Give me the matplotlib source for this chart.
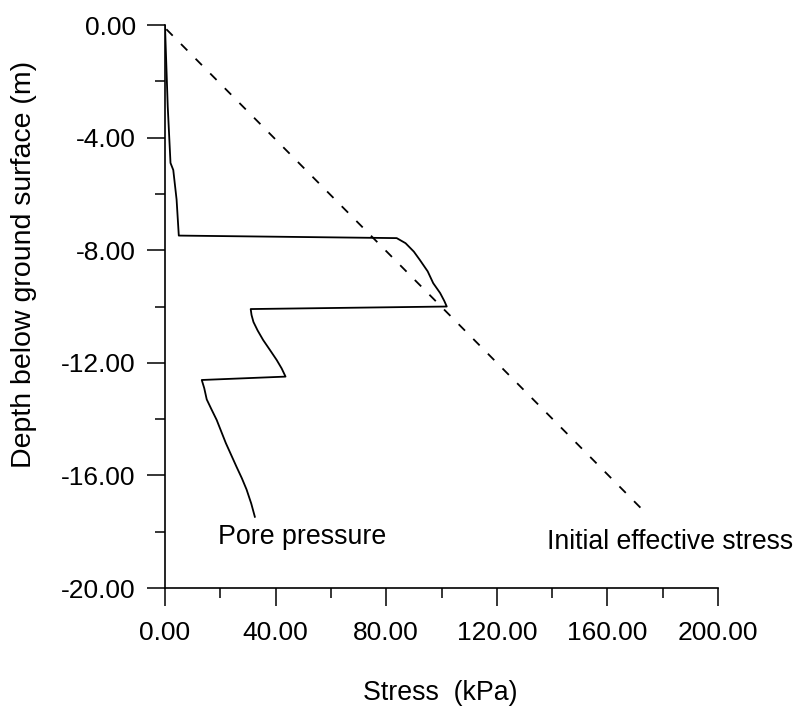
import numpy as np
import matplotlib.pyplot as plt
from matplotlib.ticker import MultipleLocator, FormatStrFormatter

plt.rcParams['font.family'] = ['Liberation Sans', 'DejaVu Sans']

# pore pressure profile (kPa, m)
pore_stress = [0.0, 1.0, 2.0, 3.0, 4.2, 5.0,
               83.8, 87.0, 90.0, 92.2, 95.0, 97.0, 99.5, 101.0, 101.9,
               31.0, 31.3, 32.0, 33.5, 35.5, 38.0, 40.4, 42.2, 43.6,
               13.3, 14.2, 15.1, 16.8, 18.7, 22.0, 25.9, 27.8, 29.5, 31.2, 32.5]
pore_depth = [0.0, -2.9, -4.9, -5.15, -6.2, -7.48,
              -7.57, -7.75, -8.05, -8.35, -8.75, -9.17, -9.52, -9.8, -10.0,
              -10.09, -10.3, -10.55, -10.85, -11.19, -11.55, -11.9, -12.2, -12.49,
              -12.61, -12.9, -13.3, -13.65, -14.03, -14.85, -15.7, -16.1, -16.5, -17.0, -17.47]

# initial effective stress line
eff_stress = [0.5, 174.0]
eff_depth = [-0.15, -17.35]


def main():
    fig = plt.figure(figsize=(8.02, 7.07), dpi=100)
    ax = fig.add_axes([0.2057, 0.1683, 0.6896, 0.7963])

    ax.plot(pore_stress, pore_depth, color='black', linewidth=1.3)
    ax.plot(eff_stress, eff_depth, color='black', linewidth=1.3,
            linestyle=(0, (5, 6.5)))

    ax.text(19.2, -18.2, 'Pore pressure', fontsize=19.3, va='center', ha='left')
    ax.text(138.2, -18.37, 'Initial effective stress', fontsize=19.2, va='center', ha='left')

    ax.set_xlim(0, 200)
    ax.set_ylim(-20, 0)
    ax.spines['top'].set_visible(False)
    ax.spines['right'].set_visible(False)
    for s in ['left', 'bottom']:
        ax.spines[s].set_linewidth(1.2)

    ax.xaxis.set_major_locator(MultipleLocator(40))
    ax.xaxis.set_minor_locator(MultipleLocator(20))
    ax.yaxis.set_major_locator(MultipleLocator(4))
    ax.yaxis.set_minor_locator(MultipleLocator(2))
    ax.xaxis.set_major_formatter(FormatStrFormatter('%.2f'))
    ax.yaxis.set_major_formatter(FormatStrFormatter('%.2f'))

    ax.tick_params(which='major', direction='out', length=13, width=1.1, labelsize=19)
    ax.tick_params(which='minor', direction='out', length=7, width=1.1)
    ax.tick_params(axis='x', which='major', pad=11)
    ax.tick_params(axis='y', which='major', pad=8)

    ax.set_xlabel('Stress  (kPa)', fontsize=19.3)
    ax.set_ylabel('Depth below ground surface (m)', fontsize=20.5)
    ax.xaxis.set_label_coords(0.497, -0.163)
    ax.yaxis.set_label_coords(-0.231, 0.574)

    fig.savefig('out.png', dpi=100)
    plt.close(fig)


if __name__ == "__main__":
    main()
